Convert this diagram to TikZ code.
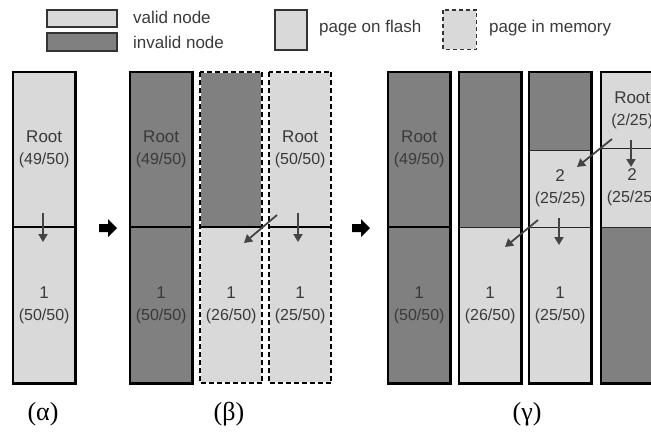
\documentclass[tikz,border=0pt]{standalone}
\usepackage{fontspec}
\setmainfont{Liberation Sans}
\newfontfamily\greekfont{Liberation Serif}
\usetikzlibrary{arrows.meta}
\definecolor{lightg}{HTML}{D9D9D9}
\definecolor{darkg}{HTML}{808080}
\definecolor{txt}{HTML}{3A3A3A}
\definecolor{arr}{HTML}{444444}
\tikzset{
  seg/.style={fill=#1, draw=none, inner sep=0pt, anchor=north west, minimum width=62pt,
    text=txt, align=center, font=\fontsize{17}{22}\selectfont},
  colframe/.style={draw=black, line width=2.6pt},
  memframe/.style={draw=black, line width=2pt, dash pattern=on 5pt off 3pt},
  memunder/.style={draw=white, line width=2pt},
  divline/.style={draw=black, line width=2pt},
  thindiv/.style={draw=black!85, line width=1.4pt},
  ptr/.style={draw=arr, line width=1.8pt, -{Triangle[length=8pt,width=9pt]}},
  bigarrow/.style={fill=black},
  legbox/.style={draw=black!80, line width=1.5pt, inner sep=0pt},
  legtext/.style={text=txt, anchor=west, inner sep=0pt, font=\fontsize{17}{20}\selectfont},
  caption/.style={inner sep=0pt, font=\greekfont\fontsize{26}{28}\selectfont},
}
\newcommand{\fr}[1]{{\fontsize{16}{22}\selectfont #1}}
\begin{document}
\begin{tikzpicture}[x=1pt,y=-1pt]
\useasboundingbox (0,0) rectangle (651,432);
\clip (0,0) rectangle (651,432);

% ---------- legend ----------
\node[legbox, fill=lightg, minimum width=70pt, minimum height=17pt, anchor=north west] (lv) at (46,9) {};
\node[legbox, fill=darkg, minimum width=70pt, minimum height=18pt, anchor=north west] (li) at (46,32) {};
\node[legtext] (tv) at (133,17) {valid node};
\node[legtext] (ti) at (133,42) {invalid node};
\node[legbox, fill=lightg, minimum width=32pt, minimum height=40pt, anchor=north west] (lf) at (274,9) {};
\node[legtext] (tf) at (319,28) {page on flash};
\node[fill=lightg, inner sep=0pt, minimum width=33pt, minimum height=39pt, anchor=north west] (lm) at (443,10) {};
\draw[draw=black!80, line width=1.5pt, dash pattern=on 4pt off 3pt] (lm.north west) rectangle (lm.south east);
\node[legtext] (tm) at (489,28) {page in memory};

% ---------- (alpha) ----------
\node[seg=lightg, minimum height=155pt] (a1) at (13,72) {Root\\\fr{(49/50)}};
\node[seg=lightg, minimum height=156pt] (a2) at (13,227) {1\\\fr{(50/50)}};
\draw[divline] (a1.south west) -- (a1.south east);
\draw[colframe] (a1.north west) rectangle (a2.south east);
\coordinate (a1p) at (43,213);
\coordinate (a2p) at (43,242);
\draw[ptr] (a1p) -- (a2p);

\fill[bigarrow] (99,224) -- (108,224) -- (108,219) -- (117,228) -- (108,237) -- (108,232) -- (99,232) -- cycle;

% ---------- (beta) ----------
\node[seg=darkg, minimum height=155pt] (b1) at (130,72) {Root\\\fr{(49/50)}};
\node[seg=darkg, minimum height=156pt] (b2) at (130,227) {1\\\fr{(50/50)}};
\draw[divline] (b1.south west) -- (b1.south east);
\draw[colframe] (b1.north west) rectangle (b2.south east);

\node[seg=darkg, minimum height=155pt] (c1) at (200,72) {};
\node[seg=lightg, minimum height=156pt] (c2) at (200,227) {1\\\fr{(26/50)}};
\draw[divline] (c1.south west) -- (c1.south east);
\draw[memunder] (c1.north west) rectangle (c2.south east);
\draw[memframe] (c1.north west) rectangle (c2.south east);

\node[seg=lightg, minimum height=155pt] (d1) at (269,72) {Root\\\fr{(50/50)}};
\node[seg=lightg, minimum height=156pt] (d2) at (269,227) {1\\\fr{(25/50)}};
\draw[divline] (d1.south west) -- (d1.south east);
\draw[memunder] (d1.north west) rectangle (d2.south east);
\draw[memframe] (d1.north west) rectangle (d2.south east);
\coordinate (d1p) at (298,213);
\coordinate (d2p) at (298,242);
\draw[ptr] (d1p) -- (d2p);
\coordinate (d1q) at (277,215);
\coordinate (c2q) at (244,243);
\draw[ptr] (d1q) -- (c2q);

\fill[bigarrow] (352,224) -- (361,224) -- (361,219) -- (370,228) -- (361,237) -- (361,232) -- (352,232) -- cycle;

% ---------- (gamma) ----------
\node[seg=darkg, minimum height=155pt] (e1) at (388,72) {Root\\\fr{(49/50)}};
\node[seg=darkg, minimum height=156pt] (e2) at (388,227) {1\\\fr{(50/50)}};
\draw[divline] (e1.south west) -- (e1.south east);
\draw[colframe] (e1.north west) rectangle (e2.south east);

\node[seg=darkg, minimum height=155pt] (f1) at (459,72) {};
\node[seg=lightg, minimum height=156pt] (f2) at (459,227) {1\\\fr{(26/50)}};
\draw[thindiv] (f1.south west) -- (f1.south east);
\draw[colframe] (f1.north west) rectangle (f2.south east);

\node[seg=darkg, minimum height=78pt] (g0) at (529,72) {};
\node[seg=lightg, minimum height=77pt] (g1) at (529,150) {2\\\fr{(25/25)}};
\node[seg=lightg, minimum height=156pt] (g2) at (529,227) {1\\\fr{(25/50)}};
\draw[thindiv] (g0.south west) -- (g0.south east);
\draw[thindiv] (g1.south west) -- (g1.south east);
\draw[colframe] (g0.north west) rectangle (g2.south east);

\node[seg=lightg, minimum height=76pt] (h0) at (601,72) {Root\\\fr{(2/25)}};
\node[seg=lightg, minimum height=79pt] (h1) at (601,148) {2\\\fr{(25/25)}};
\node[seg=darkg, minimum height=156pt] (h2) at (601,227) {};
\draw[thindiv] (h0.south west) -- (h0.south east);
\draw[thindiv] (h1.south west) -- (h1.south east);
\draw[colframe] (h0.north west) rectangle (h2.south east);

\coordinate (h0p) at (631,140);
\coordinate (h1p) at (631,167);
\draw[ptr] (h0p) -- (h1p);
\coordinate (h0q) at (612,139);
\coordinate (g1q) at (577,167);
\draw[ptr] (h0q) -- (g1q);
\coordinate (g1p) at (559,218);
\coordinate (g2p) at (559,245);
\draw[ptr] (g1p) -- (g2p);
\coordinate (g1r) at (538,220);
\coordinate (f2r) at (505,247);
\draw[ptr] (g1r) -- (f2r);

% ---------- captions ----------
\node[caption] (capa) at (43,414) {(α)};
\node[caption] (capb) at (229,414) {(β)};
\node[caption] (capc) at (527,414) {(γ)};
\end{tikzpicture}
\end{document}
